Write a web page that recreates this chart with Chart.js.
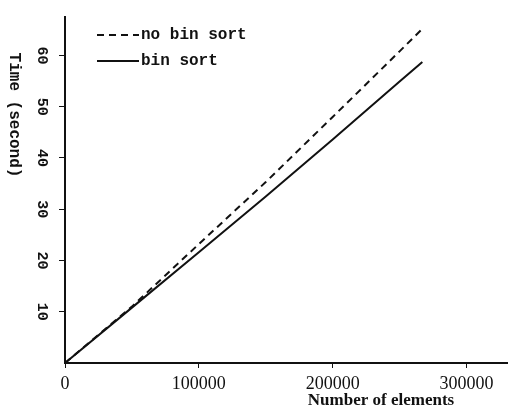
<!DOCTYPE html>
<html lang="en">
<head>
<meta charset="UTF-8">
<script src="https://cdn.jsdelivr.net/npm/chart.js"></script>
<title>Time vs number of elements</title>
<style>
  body { margin: 0; background: #fff; }
</style>
</head>
<body>
<canvas id="sortChart" width="508" height="415"></canvas>
<script>
// values
const elements   = [0, 50000, 100000, 150000, 200000, 250000, 267000];
const noBinSort  = [0, 11.0, 23.2, 35.3, 48.0, 60.8, 65.2];
const binSort    = [0, 10.8, 21.6, 32.5, 43.6, 54.9, 58.7];
const xTicks = [0, 100000, 200000, 300000];
const yTicks = [10, 20, 30, 40, 50, 60];
const seriesNames = ['no bin sort', 'bin sort'];
const xTitle = 'Number of elements';
const yTitle = 'Time (second)';

const ink = '#111';
const monoFont = '"Liberation Mono", "DejaVu Sans Mono", monospace';
const serifFont = '"Liberation Serif", "DejaVu Serif", serif';

function toPoints(ys) {
  return elements.map((x, i) => ({ x: x, y: ys[i] }));
}

// titles and legend drawn by hand (rotated the other way from Chart.js)
const extras = {
  id: 'extras',
  afterDraw(chart) {
    const c = chart.ctx;
    c.save();
    c.fillStyle = ink;
    c.strokeStyle = ink;

    // y title, reading top to bottom
    c.font = 'bold 16px ' + monoFont;
    c.translate(14, 115);
    c.rotate(Math.PI / 2);
    c.textAlign = 'center';
    c.textBaseline = 'middle';
    c.fillText(yTitle, 0, 0);
    c.setTransform(1, 0, 0, 1, 0, 0);

    // x title
    c.font = 'bold 17px ' + serifFont;
    c.textAlign = 'center';
    c.textBaseline = 'middle';
    c.fillText(xTitle, 381, 401);

    // legend
    c.font = 'bold 16px ' + monoFont;
    c.textAlign = 'left';
    c.lineWidth = 2;
    const rows = [{ y: 35, dash: [7, 5] }, { y: 61, dash: [] }];
    rows.forEach((r, i) => {
      c.setLineDash(r.dash);
      c.beginPath();
      c.moveTo(97, r.y);
      c.lineTo(139, r.y);
      c.stroke();
      c.fillText(seriesNames[i], 141, r.y);
    });
    c.restore();
  }
};

new Chart(document.getElementById('sortChart'), {
  type: 'scatter',
  plugins: [extras],
  data: {
    datasets: [
      {
        label: seriesNames[0],
        data: toPoints(noBinSort),
        showLine: true,
        borderColor: ink,
        borderWidth: 2,
        borderDash: [7, 5],
        pointRadius: 0,
        fill: false
      },
      {
        label: seriesNames[1],
        data: toPoints(binSort),
        showLine: true,
        borderColor: ink,
        borderWidth: 2,
        pointRadius: 0,
        fill: false
      }
    ]
  },
  options: {
    responsive: false,
    animation: false,
    layout: { padding: { top: 12, right: -2, left: 0, bottom: 0 } },
    plugins: {
      legend: { display: false },
      tooltip: { enabled: false }
    },
    scales: {
      x: {
        type: 'linear',
        min: 0,
        max: 331000,
        afterBuildTicks: s => { s.ticks = xTicks.map(v => ({ value: v })); },
        afterFit: s => { s.height = 52; },
        border: { display: true, color: ink, width: 2 },
        grid: { drawOnChartArea: false, drawTicks: true, tickLength: 5, color: ink },
        ticks: {
          padding: 5,
          color: ink,
          maxRotation: 0,
          font: { family: serifFont, size: 18 },
          callback: v => String(v)
        }
      },
      y: {
        min: 0,
        max: 67.5,
        afterBuildTicks: s => { s.ticks = yTicks.map(v => ({ value: v })); },
        afterFit: s => { s.width = 65; },
        border: { display: true, color: ink, width: 2 },
        grid: { drawOnChartArea: false, drawTicks: true, tickLength: 6, color: ink },
        ticks: {
          padding: 8,
          color: ink,
          minRotation: -90,
          maxRotation: -90,
          crossAlign: 'center',
          font: { family: monoFont, size: 15, weight: 'bold' },
          callback: v => String(v)
        }
      }
    }
  }
});
</script>
</body>
</html>
